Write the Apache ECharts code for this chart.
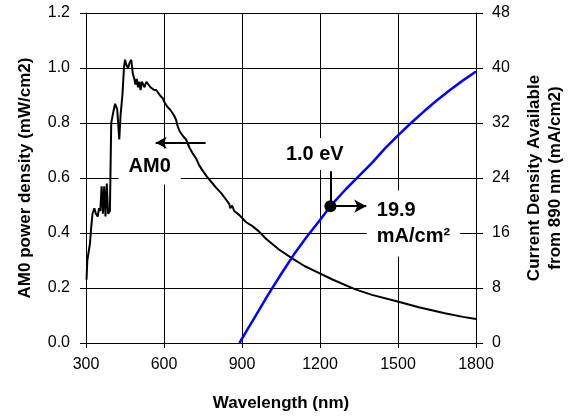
<!DOCTYPE html>
<html>
<head>
<meta charset="utf-8">
<script src="https://cdn.jsdelivr.net/npm/echarts@6/dist/echarts.min.js"></script>
<style>
  html, body { margin: 0; padding: 0; background: #fff; }
  #chart { width: 574px; height: 419px; }
</style>
</head>
<body>
<div id="chart"></div>
<script>
// AM0 spectrum (nm, mW/cm2)
const spectrumNm = [302, 305, 315, 320, 325, 332, 338, 345, 350, 355, 360, 365, 370, 375, 380, 385, 392,
  397, 405, 412, 420, 425, 428, 433, 440, 446, 450, 456, 462, 468, 474, 480, 486, 490, 495, 500, 505,
  510, 515, 520, 525, 532, 540, 548, 555, 562, 570, 577, 585, 595, 602, 612, 622, 630, 640, 647, 652,
  660, 665, 675, 685, 698, 710, 724, 736, 750, 765, 787, 800, 820, 840, 851, 855, 858, 862, 870, 890,
  915, 940, 966, 991, 1042, 1093, 1140, 1195, 1250, 1336, 1400, 1502, 1580, 1680, 1750, 1800]
const spectrumPower = [0.23, 0.30, 0.36, 0.42, 0.47, 0.49, 0.47, 0.46, 0.49, 0.48, 0.57, 0.47, 0.57, 0.46, 0.58, 0.47, 0.48,
  0.80, 0.84, 0.87, 0.85, 0.78, 0.74, 0.83, 0.90, 1.00, 1.03, 1.01, 1.00, 1.02, 1.03, 0.98, 0.96, 0.94, 0.96, 0.93, 0.95,
  0.92, 0.95, 0.94, 0.93, 0.95, 0.94, 0.93, 0.93, 0.92, 0.92, 0.925, 0.90, 0.89, 0.875, 0.86, 0.85, 0.84, 0.825, 0.81, 0.79,
  0.77, 0.77, 0.75, 0.74, 0.71, 0.69, 0.67, 0.645, 0.625, 0.605, 0.58, 0.565, 0.545, 0.52, 0.505, 0.49, 0.49, 0.50, 0.48, 0.465,
  0.44, 0.425, 0.405, 0.38, 0.34, 0.308, 0.28, 0.255, 0.23, 0.195, 0.175, 0.15, 0.13, 0.108, 0.095, 0.087]

// current density available from 890 nm (nm, mA/cm2)
const currentNm = [890, 920, 950, 1000, 1050, 1100, 1150, 1200, 1240, 1300, 1350, 1400, 1450, 1500,
  1550, 1600, 1650, 1700, 1750, 1800]
const currentJ = [0, 1.9, 3.8, 7.0, 10.0, 12.9, 15.5, 17.9, 19.9, 22.4, 24.3, 26.2, 28.3, 30.2,
  32.0, 33.7, 35.3, 36.8, 38.2, 39.5]

// 1.0 eV marker
const bandgapNm = 1240
const bandgapJ = 19.9

const xTicks = { min: 300, max: 1800, step: 300 }
const leftTicks = { min: 0, max: 1.2, step: 0.2 }
const rightTicks = { min: 0, max: 48, step: 8 }

// text notes, anchored in data units (left axis)
const noteAM0 = { text: 'AM0', at: [545, 0.642] }
const noteEV = { text: '1.0 eV', at: [1180, 0.687] }
const noteJ = { text: '19.9\nmA/cm²', at: [1380, 0.4345] }
const am0Arrow = { from: [760, 0.728], to: [568, 0.728] }
const evArrowRight = 1378
const evStemTop = 25.0

const FONT = '"Liberation Sans", Arial, sans-serif'
const chart = echarts.init(document.getElementById('chart'))

const zip = (xs, ys) => xs.map((x, i) => [x, ys[i]])

const noteSeries = (note, position, extra) => ({
  type: 'scatter',
  yAxisIndex: 0,
  symbolSize: 0,
  silent: true,
  z: 3,
  data: [note.at],
  itemStyle: { opacity: 1 },
  label: Object.assign({
    show: true,
    position: position,
    distance: 0,
    formatter: note.text,
    color: '#000',
    opacity: 1,
    textBorderWidth: 0,
    textBorderColor: 'transparent',
    fontFamily: FONT,
    fontWeight: 'bold',
    fontSize: 20,
    backgroundColor: '#fff'
  }, extra)
})

chart.setOption({
  animation: false,
  textStyle: { fontFamily: FONT },
  grid: { left: 86, right: 96, top: 13, bottom: 76, containLabel: false },
  xAxis: {
    type: 'value',
    min: xTicks.min,
    max: xTicks.max,
    interval: xTicks.step,
    name: 'Wavelength (nm)',
    nameLocation: 'middle',
    nameGap: 52,
    nameTextStyle: { color: '#000', fontWeight: 'bold', fontSize: 17, fontFamily: FONT },
    axisLine: { lineStyle: { color: '#000', width: 1 } },
    axisTick: { length: 5, lineStyle: { color: '#000' } },
    axisLabel: { color: '#000', fontSize: 16, margin: 14, fontFamily: FONT, formatter: v => String(v) },
    splitLine: { show: true, lineStyle: { color: '#000', width: 1 } }
  },
  yAxis: [
    {
      type: 'value',
      min: leftTicks.min,
      max: leftTicks.max,
      interval: leftTicks.step,
      name: 'AM0 power density (mW/cm2)',
      nameLocation: 'middle',
      nameGap: 52,
      nameRotate: 90,
      nameTextStyle: { color: '#000', fontWeight: 'bold', fontSize: 17, fontFamily: FONT },
      axisLine: { show: true, lineStyle: { color: '#000', width: 1 } },
      axisTick: { show: true, length: 6, lineStyle: { color: '#000' } },
      axisLabel: { color: '#000', fontSize: 16, margin: 16, fontFamily: FONT, formatter: v => v.toFixed(1) },
      splitLine: { show: true, lineStyle: { color: '#000', width: 1 } }
    },
    {
      type: 'value',
      position: 'right',
      min: rightTicks.min,
      max: rightTicks.max,
      interval: rightTicks.step,
      name: 'Current Density Available\nfrom 890 nm (mA/cm2)',
      nameLocation: 'middle',
      nameGap: 48,
      nameRotate: 90,
      nameTextStyle: { color: '#000', fontWeight: 'bold', fontSize: 17, lineHeight: 21, fontFamily: FONT },
      axisLine: { show: true, lineStyle: { color: '#000', width: 1 } },
      axisTick: { show: true, length: 7, lineStyle: { color: '#000' } },
      axisLabel: { color: '#000', fontSize: 16, margin: 16, fontFamily: FONT },
      splitLine: { show: false }
    }
  ],
  series: [
    noteSeries(noteAM0, 'inside', { padding: [8, 10] }),
    noteSeries(noteEV, 'inside', { padding: [6, 8] }),
    noteSeries(noteJ, 'right', { padding: [7, 10], align: 'left', lineHeight: 26 }),
    {
      name: 'AM0',
      type: 'line',
      yAxisIndex: 0,
      z: 4,
      showSymbol: false,
      data: zip(spectrumNm, spectrumPower),
      lineStyle: { color: '#000', width: 2 },
      markLine: {
        silent: true,
        symbol: ['none', 'arrow'],
        symbolSize: [9, 11],
        label: { show: false },
        lineStyle: { color: '#000', width: 2, type: 'solid' },
        data: [[{ coord: am0Arrow.from }, { coord: am0Arrow.to }]]
      }
    },
    {
      name: 'Current',
      type: 'line',
      yAxisIndex: 1,
      z: 4,
      showSymbol: false,
      data: zip(currentNm, currentJ),
      lineStyle: { color: '#0000ff', width: 2.5 },
      markLine: {
        silent: true,
        symbol: ['none', 'arrow'],
        symbolSize: [10, 12],
        label: { show: false },
        lineStyle: { color: '#000', width: 2, type: 'solid' },
        data: [
          [{ coord: [bandgapNm, bandgapJ], symbol: 'none' }, { coord: [bandgapNm, evStemTop], symbol: 'none' }],
          [{ coord: [bandgapNm, bandgapJ] }, { coord: [evArrowRight, bandgapJ] }]
        ]
      }
    },
    {
      type: 'scatter',
      yAxisIndex: 1,
      z: 5,
      silent: true,
      symbolSize: 12,
      itemStyle: { color: '#000', opacity: 1 },
      data: [[bandgapNm, bandgapJ]]
    }
  ]
})
</script>
</body>
</html>
